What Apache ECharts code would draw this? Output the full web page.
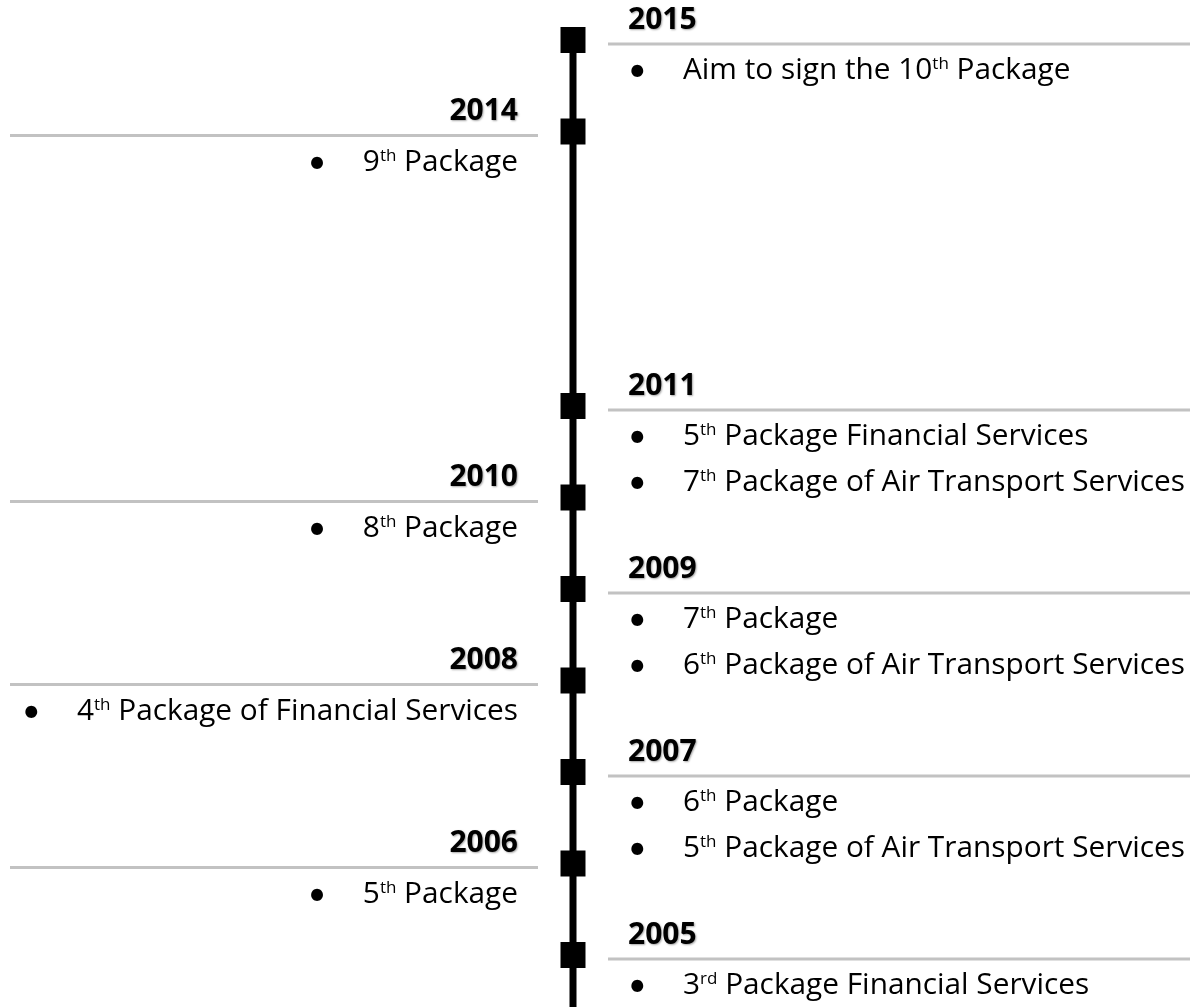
<!DOCTYPE html>
<html>
<head>
<meta charset="utf-8">
<script src="https://cdn.jsdelivr.net/npm/echarts@6/dist/echarts.min.js"></script>
<style>
  html, body { margin: 0; padding: 0; background: #fff; }
  #chart { width: 1190px; height: 1007px; }
</style>
</head>
<body>
<div id="chart"></div>
<script>
// years on the timeline, top to bottom
const years = [2015, 2014, 2011, 2010, 2009, 2008, 2007, 2006, 2005]
// which side of the spine the entry sits on
const sides = ['right', 'left', 'right', 'left', 'right', 'left', 'right', 'left', 'right']
// bullet points per year
const events = [
  ['Aim to sign the 10th Package'],
  ['9th Package'],
  ['5th Package Financial Services', '7th Package of Air Transport Services'],
  ['8th Package'],
  ['7th Package', '6th Package of Air Transport Services'],
  ['4th Package of Financial Services'],
  ['6th Package', '5th Package of Air Transport Services'],
  ['5th Package'],
  ['3rd Package Financial Services']
]

const FONT = '"Open Sans", sans-serif'
const TEXT_COLOR = '#12122a'

// turn "10th Package" into rich text with a superscript suffix
function richLine(str) {
  const m = str.match(/^(.*?)(\d+)(st|nd|rd|th)(.*)$/)
  if (!m) return '{b|•}{t|' + str + '}'
  let s = '{b|•}'
  if (m[1]) s += '{t|' + m[1] + '}'
  return s + '{t|' + m[2] + '}{s|' + m[3] + '}{t|' + m[4] + '}'
}

const rich = {
  b: { fontFamily: 'Lato, sans-serif', fontSize: 32, width: 55, align: 'left', lineHeight: 36, color: '#000' },
  t: { fontFamily: FONT, fontSize: 29.8, lineHeight: 36, color: TEXT_COLOR },
  s: { fontFamily: FONT, fontSize: 17, lineHeight: 17, verticalAlign: 'top', color: TEXT_COLOR, padding: [3, 0, 0, 0] }
}

function renderEntry(params, api) {
  const i = api.value(2)
  const pt = api.coord([0, api.value(1)])
  const cx = pt[0], cy = pt[1]
  const right = sides[i] === 'right'
  const ruleY = cy + 4
  const children = [
    {
      type: 'line',
      shape: { x1: right ? cx + 35 : 10, y1: ruleY, x2: right ? api.getWidth() : cx - 35, y2: ruleY },
      style: { stroke: '#c2c2c2', lineWidth: 3 }
    },
    {
      type: 'text',
      style: {
        text: String(years[i]),
        x: right ? cx + 55 : cx - 55,
        y: ruleY - 24,
        align: right ? 'left' : 'right',
        verticalAlign: 'middle',
        font: 'bold 30px ' + FONT,
        fill: '#000',
        textShadowColor: 'rgba(0,0,0,0.35)',
        textShadowBlur: 2,
        textShadowOffsetX: 1,
        textShadowOffsetY: 1
      }
    }
  ]
  events[i].forEach((ev, k) => {
    children.push({
      type: 'text',
      style: {
        text: richLine(ev),
        rich: rich,
        x: right ? cx + 55 : cx - 55,
        y: ruleY + 27 + k * 46,
        align: right ? 'left' : 'right',
        verticalAlign: 'middle'
      }
    })
  })
  return { type: 'group', children: children }
}

const chart = echarts.init(document.getElementById('chart'))
chart.setOption({
  animation: false,
  grid: { left: 0, right: 44, top: 40, bottom: 52 },
  xAxis: { type: 'value', min: -1, max: 1, show: false },
  yAxis: { type: 'value', min: 2005, max: 2015, show: false },
  series: [
    {
      // the spine, running on past the earliest year
      type: 'line',
      data: [[0, years[0]], [0, years[years.length - 1] - 1]],
      symbol: 'none',
      clip: false,
      lineStyle: { color: '#000', width: 7 },
      z: 1
    },
    {
      type: 'scatter',
      data: years.map(y => [0, y]),
      symbol: 'rect',
      symbolSize: [25, 26],
      itemStyle: { color: '#000', opacity: 1 },
      z: 3
    },
    {
      type: 'custom',
      data: years.map((y, i) => [0, y, i]),
      renderItem: renderEntry,
      clip: false,
      z: 2
    }
  ]
})
</script>
</body>
</html>
